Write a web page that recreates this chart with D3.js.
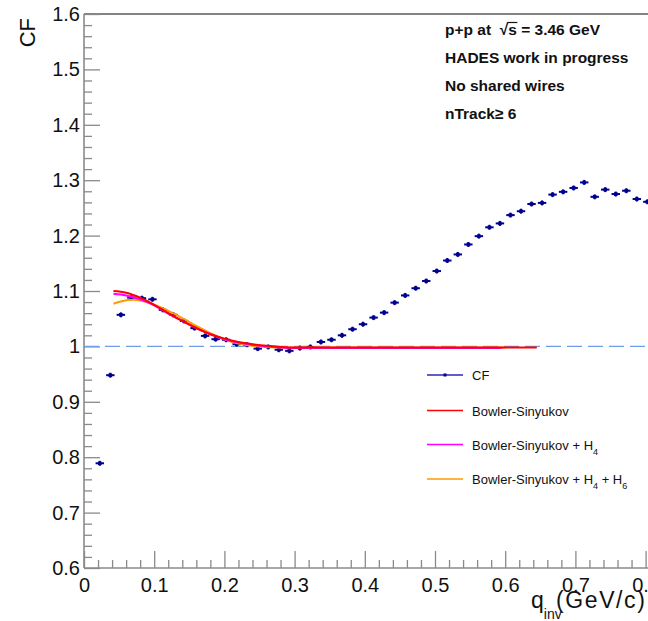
<!DOCTYPE html>
<html>
<head>
<meta charset="utf-8">
<script src="https://cdn.jsdelivr.net/npm/d3@7"></script>
<style>
  body { margin: 0; background: #fff; }
  svg { display: block; font-family: "Liberation Sans", Arial, Helvetica, sans-serif; }
</style>
</head>
<body>
<svg id="chart" width="648" height="621"></svg>
<script>
// measured CF points (bin centres in q_inv)
var qValues = [0.0225, 0.0375, 0.0525, 0.0675, 0.0825, 0.0975, 0.1125, 0.1275, 0.1425, 0.1575,
  0.1725, 0.1875, 0.2025, 0.2175, 0.2325, 0.2475, 0.2625, 0.2775, 0.2925, 0.3075,
  0.3225, 0.3375, 0.3525, 0.3675, 0.3825, 0.3975, 0.4125, 0.4275, 0.4425, 0.4575,
  0.4725, 0.4875, 0.5025, 0.5175, 0.5325, 0.5475, 0.5625, 0.5775, 0.5925, 0.6075,
  0.6225, 0.6375, 0.6525, 0.6675, 0.6825, 0.6975, 0.7125, 0.7275, 0.7425, 0.7575,
  0.7725, 0.7875, 0.8025];
var cfValues = [0.789, 0.948, 1.057, 1.088, 1.087, 1.085, 1.066, 1.057, 1.046, 1.033,
  1.019, 1.013, 1.012, 1.004, 1.003, 0.996, 0.999, 0.994, 0.992, 0.997,
  0.999, 1.008, 1.012, 1.020, 1.031, 1.040, 1.052, 1.061, 1.079, 1.092,
  1.105, 1.118, 1.136, 1.155, 1.166, 1.184, 1.199, 1.215, 1.222, 1.237,
  1.244, 1.257, 1.259, 1.274, 1.279, 1.286, 1.296, 1.270, 1.283, 1.275,
  1.281, 1.266, 1.261];
var cfErr = 0.0045;
var qErr = 0.006;

// fit curves
var bsQ  = [0.042, 0.06, 0.08, 0.10, 0.12, 0.14, 0.16, 0.18, 0.20, 0.22, 0.24, 0.26, 0.28, 0.30, 0.35, 0.40, 0.50, 0.60, 0.645];
var bsCF = [1.100, 1.097, 1.088, 1.075, 1.060, 1.046, 1.033, 1.022, 1.014, 1.008, 1.004, 1.001, 0.999, 0.998, 0.998, 0.998, 0.998, 0.998, 0.998];
var h4Q  = [0.042, 0.06, 0.08, 0.10, 0.12, 0.14, 0.16, 0.18, 0.20, 0.22, 0.24, 0.26, 0.28, 0.30, 0.35, 0.40, 0.50, 0.595];
var h4CF = [1.095, 1.092, 1.085, 1.074, 1.059, 1.046, 1.033, 1.022, 1.013, 1.007, 1.003, 1.000, 0.998, 0.997, 0.997, 0.997, 0.997, 0.997];
var h6Q  = [0.042, 0.055, 0.07, 0.08, 0.095, 0.12, 0.14, 0.16, 0.18, 0.20, 0.22, 0.24, 0.26, 0.28, 0.30, 0.40, 0.50, 0.60];
var h6CF = [1.077, 1.082, 1.084, 1.083, 1.078, 1.064, 1.051, 1.037, 1.024, 1.013, 1.005, 1.001, 0.999, 0.998, 0.998, 0.998, 0.998, 0.998];

var xTicks = [0, 0.1, 0.2, 0.3, 0.4, 0.5, 0.6, 0.7, 0.8];
var xTickLabels = ["0", "0.1", "0.2", "0.3", "0.4", "0.5", "0.6", "0.7", "0.8"];
var yTicks = [0.6, 0.7, 0.8, 0.9, 1.0, 1.1, 1.2, 1.3, 1.4, 1.5, 1.6];
var yTickLabels = ["0.6", "0.7", "0.8", "0.9", "1", "1.1", "1.2", "1.3", "1.4", "1.5", "1.6"];

var legendLabels = ["CF", "Bowler-Sinyukov", "Bowler-Sinyukov + H", "Bowler-Sinyukov + H"];
var infoLines = ["HADES work in progress", "No shared wires", "nTrack\u2265 6"];

var margin = { top: 14, bottom: 53, left: 84 };
var svg = d3.select("#chart");
var width = +svg.attr("width");
var height = +svg.attr("height");

var x = d3.scaleLinear().domain([0, 0.8]).range([margin.left, 645.6]);
var y = d3.scaleLinear().domain([0.6, 1.6]).range([height - margin.bottom, margin.top]);
var bottomY = height - margin.bottom;

var axisColor = "#8a8a8a";
var markColor = "#00008f";

svg.append("rect").attr("width", width).attr("height", height).attr("fill", "#fff");

// frame top
svg.append("line")
  .attr("x1", margin.left).attr("x2", width)
  .attr("y1", margin.top).attr("y2", margin.top)
  .attr("stroke", "#5a5a5a").attr("stroke-width", 1.5);

// minor ticks
var xMinor = d3.range(0, 0.861, 0.02).filter(v => Math.abs(v * 10 - Math.round(v * 10)) > 1e-6);
var yMinor = d3.range(0.6, 1.601, 0.02).filter(v => Math.abs(v * 10 - Math.round(v * 10)) > 1e-6);

svg.append("g")
  .attr("transform", `translate(0,${bottomY})`)
  .call(d3.axisBottom(x).tickValues(xMinor).tickSize(-8).tickSizeOuter(0).tickFormat(""))
  .call(g => g.select(".domain").remove())
  .call(g => g.selectAll(".tick line").attr("stroke", axisColor).attr("stroke-width", 1.3));

svg.append("g")
  .attr("transform", `translate(${margin.left},0)`)
  .call(d3.axisLeft(y).tickValues(yMinor).tickSize(-8).tickSizeOuter(0).tickFormat(""))
  .call(g => g.select(".domain").remove())
  .call(g => g.selectAll(".tick line").attr("stroke", axisColor).attr("stroke-width", 1.3));

// major axes
svg.append("g")
  .attr("transform", `translate(0,${bottomY})`)
  .call(d3.axisBottom(x).tickValues(xTicks).tickSize(-17).tickSizeOuter(0)
    .tickPadding(10).tickFormat((d, i) => xTickLabels[i]))
  .call(g => g.select(".domain").remove())
  .call(g => g.selectAll(".tick line").attr("stroke", axisColor).attr("stroke-width", 1.3))
  .call(g => g.selectAll("text").attr("fill", "#111").style("font-size", "20px")
    .style("font-family", "'Liberation Sans', Arial, sans-serif"));

svg.append("g")
  .attr("transform", `translate(${margin.left},0)`)
  .call(d3.axisLeft(y).tickValues(yTicks).tickSize(-16).tickSizeOuter(0)
    .tickPadding(4).tickFormat((d, i) => yTickLabels[i]))
  .call(g => g.select(".domain").remove())
  .call(g => g.selectAll(".tick line").attr("stroke", axisColor).attr("stroke-width", 1.3))
  .call(g => g.selectAll("text").attr("fill", "#111").style("font-size", "20px")
    .style("font-family", "'Liberation Sans', Arial, sans-serif"));

// axis lines
svg.append("line")
  .attr("x1", margin.left).attr("x2", width)
  .attr("y1", bottomY).attr("y2", bottomY)
  .attr("stroke", axisColor).attr("stroke-width", 1.6);
svg.append("line")
  .attr("x1", margin.left).attr("x2", margin.left)
  .attr("y1", margin.top).attr("y2", bottomY)
  .attr("stroke", axisColor).attr("stroke-width", 1.6);

// axis titles
svg.append("text")
  .attr("transform", `translate(35,18) rotate(-90)`)
  .attr("text-anchor", "end")
  .style("font-size", "22px")
  .attr("fill", "#111")
  .text("CF");

var xt = svg.append("text").attr("y", 608).style("font-size", "23px").attr("fill", "#111");
xt.append("tspan").attr("x", 531).text("q");
xt.append("tspan").attr("dy", 11).style("font-size", "14px").text("inv");
xt.append("tspan").attr("dy", -11).attr("x", 556).style("letter-spacing", "1.6px").text("(GeV/c)");

// dashed reference at 1
svg.append("line")
  .attr("x1", margin.left).attr("x2", width)
  .attr("y1", y(1)).attr("y2", y(1))
  .attr("stroke", "#6f9ee8").attr("stroke-width", 1.3)
  .attr("stroke-dasharray", "15,6");

// data points
var pts = qValues.map((q, i) => ({ q: q, cf: cfValues[i] }));
var pg = svg.append("g");
pg.selectAll(".xerr").data(pts).enter().append("line")
  .attr("x1", d => x(d.q - qErr)).attr("x2", d => x(d.q + qErr))
  .attr("y1", d => y(d.cf)).attr("y2", d => y(d.cf))
  .attr("stroke", markColor).attr("stroke-width", 2);
pg.selectAll(".yerr").data(pts).enter().append("line")
  .attr("x1", d => x(d.q)).attr("x2", d => x(d.q))
  .attr("y1", d => y(d.cf - cfErr)).attr("y2", d => y(d.cf + cfErr))
  .attr("stroke", markColor).attr("stroke-width", 2);
pg.selectAll("rect").data(pts).enter().append("rect")
  .attr("x", d => x(d.q) - 1.8).attr("y", d => y(d.cf) - 1.8)
  .attr("width", 3.6).attr("height", 3.6)
  .attr("fill", markColor);

// fit curves
var line = d3.line().x(d => x(d[0])).y(d => y(d[1])).curve(d3.curveMonotoneX);
function drawFit(qs, vals, color) {
  svg.append("path")
    .datum(qs.map((q, i) => [q, vals[i]]))
    .attr("fill", "none")
    .attr("stroke", color)
    .attr("stroke-width", 2)
    .attr("d", line);
}
drawFit(h6Q, h6CF, "#ff9a00");
drawFit(h4Q, h4CF, "#ff00ff");
drawFit(bsQ, bsCF, "#ff0000");

// legend
var legendColors = ["#2828b8", "#ff0000", "#ff00ff", "#ff9a00"];
var legendY = [375, 410.5, 444.5, 479];
var lg = svg.append("g");
legendLabels.forEach((lab, i) => {
  lg.append("line")
    .attr("x1", 427).attr("x2", 463)
    .attr("y1", legendY[i]).attr("y2", legendY[i])
    .attr("stroke", legendColors[i]).attr("stroke-width", 1.5);
  var t = lg.append("text")
    .attr("x", 472).attr("y", legendY[i] + 5)
    .style("font-size", "13px").attr("fill", "#111");
  t.append("tspan").text(lab);
  if (i >= 2) {
    t.append("tspan").attr("dy", 5).style("font-size", "9px").text("4");
  }
  if (i == 3) {
    t.append("tspan").attr("dy", -5).text(" + H");
    t.append("tspan").attr("dy", 5).style("font-size", "9px").text("6");
  }
});
lg.append("rect")
  .attr("x", 443.5).attr("y", legendY[0] - 1.5)
  .attr("width", 3).attr("height", 3).attr("fill", markColor);

// info text
var info = svg.append("g").style("font-size", "15.5px").style("font-weight", "bold").attr("fill", "#111");
var first = info.append("text").attr("x", 445).attr("y", 35);
var pre = "p+p at \u00A0";
first.append("tspan").text(pre);
first.append("tspan").text("\u221A");
first.append("tspan").text("s");
first.append("tspan").text(" = 3.46 GeV");
var n1 = (pre + "\u221A").length;
var sx = 445 + first.node().getSubStringLength(0, n1);
var sw = first.node().getSubStringLength(n1, 1);
info.append("line")
  .attr("x1", sx - 1).attr("x2", sx + sw + 0.5)
  .attr("y1", 22.5).attr("y2", 22.5)
  .attr("stroke", "#111").attr("stroke-width", 1.2);

infoLines.forEach((s, i) => {
  info.append("text").attr("x", 445).attr("y", 63 + 28 * i).text(s);
});
</script>
</body>
</html>
